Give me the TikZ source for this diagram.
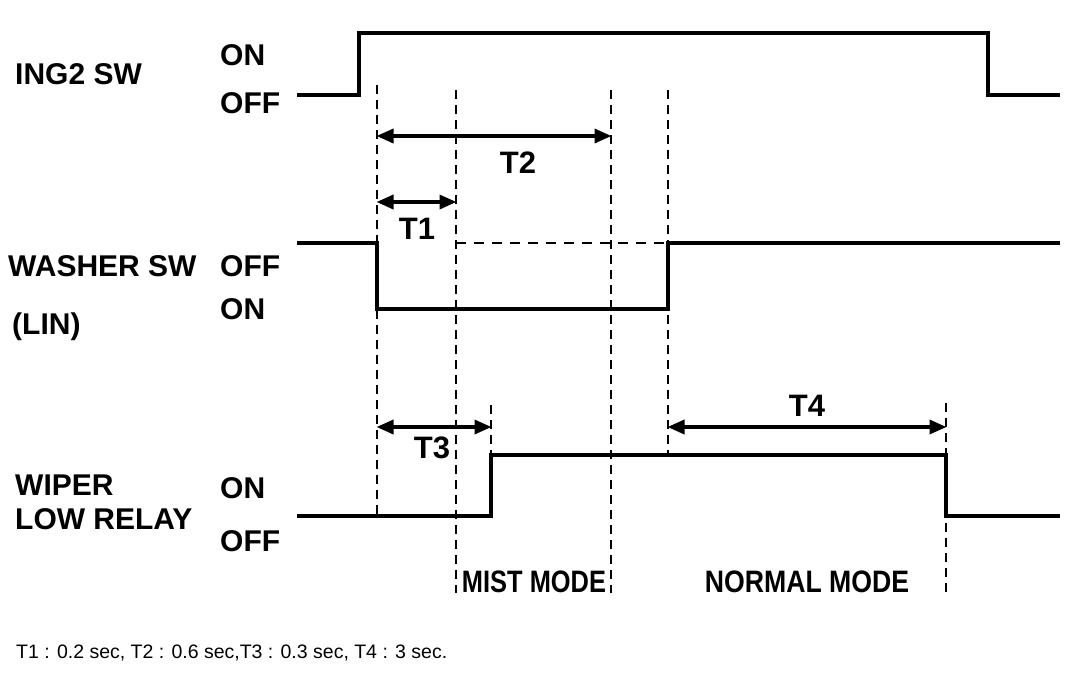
\documentclass[tikz,border=0pt]{standalone}
\usepackage{fontspec}
\setsansfont{Liberation Sans}
\newfontfamily\narrowsans[FakeStretch=0.82]{Liberation Sans}
\newfontfamily\narrowsansb[FakeStretch=0.86]{Liberation Sans}
\usetikzlibrary{arrows.meta}
\begin{document}
\begin{tikzpicture}[x=1pt,y=-1pt,
  sig/.style={line width=3.4pt,line join=miter},
  guide/.style={line width=1.3pt,dash pattern=on 9pt off 6pt},
  hguide/.style={line width=1.8pt,dash pattern=on 10pt off 8pt},
  dimarrow/.style={line width=3.5pt,{Triangle[length=17pt,width=14pt]}-{Triangle[length=17pt,width=14pt]},shorten <=-0.5pt,shorten >=-0.5pt},
  lbl/.style={font=\sffamily\bfseries\fontsize{30}{33}\selectfont,anchor=base west,inner sep=0pt},
  tlbl/.style={font=\sffamily\bfseries\fontsize{31}{34}\selectfont,anchor=base,inner sep=0pt},
  mlbl/.style={font=\narrowsans\bfseries\fontsize{31}{34}\selectfont,anchor=base,inner sep=0pt},
  mlblb/.style={font=\narrowsansb\bfseries\fontsize{31}{34}\selectfont,anchor=base,inner sep=0pt},
  note/.style={font=\sffamily\fontsize{19.5}{21}\selectfont,anchor=base west,inner sep=0pt}]
\useasboundingbox (0,0) rectangle (1088,686);
% time marks
\coordinate (t0) at (297,0);
\coordinate (ta) at (359,0);
\coordinate (tb) at (377,0);
\coordinate (tc) at (456,0);
\coordinate (td) at (491,0);
\coordinate (te) at (611,0);
\coordinate (tf) at (668,0);
\coordinate (tg) at (946,0);
\coordinate (th) at (988,0);
\coordinate (tz) at (1060,0);
% guide lines
\draw[guide] (tb |- 0,85) -- (tb |- 0,516);
\draw[guide] (tc |- 0,90) -- (tc |- 0,593);
\draw[guide] (te |- 0,90) -- (te |- 0,593);
\draw[guide] (tf |- 0,90) -- (tf |- 0,455);
\draw[guide] (td |- 0,405) -- (td |- 0,455);
\draw[guide] (tg |- 0,403) -- (tg |- 0,593);
\draw[hguide] (tc |- 0,243) -- (tf |- 0,243);
% signals
\draw[sig] (t0 |- 0,95) -- (ta |- 0,95) -- (ta |- 0,33) -- (th |- 0,33) -- (th |- 0,95) -- (tz |- 0,95);
\draw[sig] (t0 |- 0,243) -- (tb |- 0,243) -- (tb |- 0,309) -- (tf |- 0,309) -- (tf |- 0,243) -- (tz |- 0,243);
\draw[sig] (t0 |- 0,516) -- (td |- 0,516) -- (td |- 0,455) -- (tg |- 0,455) -- (tg |- 0,516) -- (tz |- 0,516);
% dimension arrows
\draw[dimarrow] (tb |- 0,136) -- (te |- 0,136);
\draw[dimarrow] (tb |- 0,202) -- (tc |- 0,202);
\draw[dimarrow] (tb |- 0,427) -- (td |- 0,427);
\draw[dimarrow] (tf |- 0,427) -- (tg |- 0,427);
\node[tlbl] (lT2) at (518,173) {T2};
\node[tlbl] (lT1) at (417,239) {T1};
\node[tlbl] (lT3) at (432,458) {T3};
\node[tlbl] (lT4) at (807,416) {T4};
% signal labels
\node[lbl] (ing) at (15,84) {ING2 SW};
\node[lbl] (ingon) at (220,65) {ON};
\node[lbl] (ingoff) at (220,113) {OFF};
\node[lbl] (wsh) at (8,276) {WASHER SW};
\node[lbl] (lin) at (12,334) {(LIN)};
\node[lbl] (wshoff) at (220,276) {OFF};
\node[lbl] (wshon) at (220,319) {ON};
\node[lbl] (wip) at (15,495) {WIPER};
\node[lbl] (low) at (15,529) {LOW RELAY};
\node[lbl] (wipon) at (220,498) {ON};
\node[lbl] (wipoff) at (220,551) {OFF};
\node[mlbl] (mist) at (534,592) {MIST MODE};
\node[mlblb] (normal) at (807,592) {NORMAL MODE};
\node[note] (fn) at (16,658) {T1 : 0.2 sec, T2 : 0.6 sec,T3 : 0.3 sec, T4 : 3 sec.};
\end{tikzpicture}
\end{document}
